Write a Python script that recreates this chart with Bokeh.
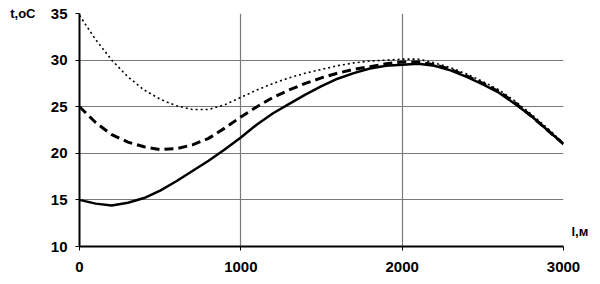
from bokeh.plotting import figure
from bokeh.models import Range1d, FixedTicker, LinearAxis
from bokeh.embed import file_html
from bokeh.resources import INLINE

dist = [0, 100, 200, 300, 400, 500, 600, 700, 800, 900, 1000,
        1100, 1200, 1300, 1400, 1500, 1600, 1700, 1800, 1900, 2000,
        2100, 2200, 2300, 2400, 2500, 2600, 2700, 2800, 2900, 3000]

t_solid = [15.0, 14.6, 14.4, 14.7, 15.2, 16.0, 17.0, 18.1, 19.2, 20.4, 21.7,
           23.1, 24.3, 25.3, 26.3, 27.2, 28.0, 28.6, 29.1, 29.4, 29.5,
           29.6, 29.4, 28.9, 28.2, 27.4, 26.5, 25.3, 24.0, 22.5, 21.0]

t_dashed = [25.0, 23.3, 22.0, 21.2, 20.7, 20.4, 20.5, 20.9, 21.6, 22.7, 23.9,
            25.0, 26.0, 26.8, 27.5, 28.1, 28.6, 29.0, 29.3, 29.6, 29.8,
            29.8, 29.5, 29.0, 28.3, 27.5, 26.6, 25.4, 24.0, 22.5, 21.0]

t_dotted = [34.8, 32.2, 30.0, 28.2, 26.8, 25.8, 25.1, 24.7, 24.7, 25.2, 26.0,
            26.8, 27.5, 28.1, 28.6, 29.0, 29.4, 29.7, 29.9, 30.0, 30.1,
            30.1, 29.7, 29.2, 28.5, 27.7, 26.8, 25.6, 24.2, 22.7, 21.1]

x_ticks = [0, 1000, 2000, 3000]
y_ticks = [10, 15, 20, 25, 30, 35]
y_title = "t,oC"
x_title = "l,м"

FONT = "Liberation Sans"

p = figure(width=600, height=284, output_backend="svg", toolbar_location=None,
           x_range=Range1d(0, 3000), y_range=Range1d(10, 35),
           min_border_left=79, min_border_right=37, min_border_top=13,
           min_border_bottom=38)
p.outline_line_color = None
p.background_fill_color = "white"
p.border_fill_color = "white"

p.xaxis.ticker = FixedTicker(ticks=x_ticks)
p.yaxis.ticker = FixedTicker(ticks=y_ticks)
for ax in (p.xaxis, p.yaxis):
    ax.axis_line_color = "black"
    ax.axis_line_width = 2
    ax.major_tick_line_color = "black"
    ax.major_tick_line_width = 1
    ax.major_tick_in = 0
    ax.major_tick_out = 4
    ax.minor_tick_line_color = None
    ax.major_label_text_font = FONT
    ax.major_label_text_font_style = "bold"
    ax.major_label_text_font_size = "15px"
    ax.major_label_text_color = "black"
p.yaxis.major_label_standoff = 8
p.xaxis.major_label_standoff = 11


def title_axis(tick, text, standoff):
    ax = LinearAxis(ticker=FixedTicker(ticks=[tick]),
                    major_label_overrides={tick: text})
    ax.axis_line_color = None
    ax.major_tick_line_color = None
    ax.minor_tick_line_color = None
    ax.major_tick_in = 0
    ax.major_tick_out = 0
    ax.major_label_standoff = standoff
    ax.major_label_text_font = FONT
    ax.major_label_text_font_style = "bold"
    ax.major_label_text_font_size = "13px"
    ax.major_label_text_color = "black"
    return ax


p.add_layout(title_axis(35, y_title, 12), "left")
p.add_layout(title_axis(11.6, x_title, 8), "right")

p.xgrid.ticker = FixedTicker(ticks=x_ticks)
p.ygrid.ticker = FixedTicker(ticks=y_ticks)
for g in (p.xgrid, p.ygrid):
    g.grid_line_color = "#7a7a7a"
    g.grid_line_width = 1.2

p.line(dist, t_dotted, line_color="black", line_width=1.6, line_dash="2 3")
p.line(dist, t_dashed, line_color="black", line_width=3, line_dash="9 5")
p.line(dist, t_solid, line_color="black", line_width=2.5)

open("out.html", "w").write(file_html(p, INLINE))
